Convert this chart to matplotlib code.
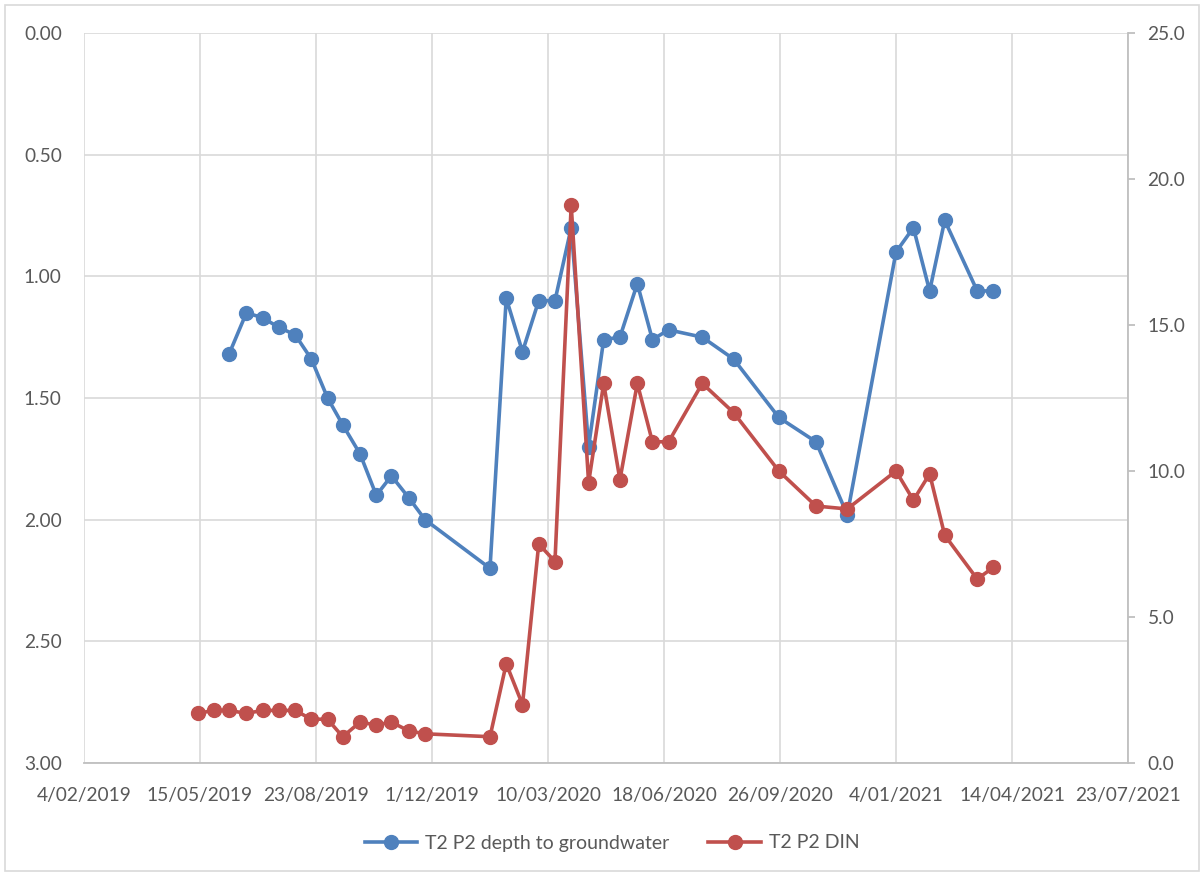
import datetime as dt
import matplotlib
matplotlib.use('Agg')
import matplotlib.pyplot as plt
import matplotlib.dates as mdates
from matplotlib.patches import Rectangle
from matplotlib.ticker import FuncFormatter, MultipleLocator

plt.rcParams['font.family'] = ['Lato', 'DejaVu Sans']

# sampling dates (DIN has two extra early samples)
din_dates = ['2019-05-13', '2019-05-27', '2019-06-09', '2019-06-24', '2019-07-08',
             '2019-07-22', '2019-08-05', '2019-08-19', '2019-09-02', '2019-09-15',
             '2019-09-30', '2019-10-14', '2019-10-27', '2019-11-11', '2019-11-25',
             '2020-01-20', '2020-02-03', '2020-02-17', '2020-03-02', '2020-03-16',
             '2020-03-30', '2020-04-14', '2020-04-27', '2020-05-11', '2020-05-26',
             '2020-06-08', '2020-06-22', '2020-07-21', '2020-08-17', '2020-09-25',
             '2020-10-27', '2020-11-23', '2021-01-04', '2021-01-19', '2021-02-02',
             '2021-02-15', '2021-03-15', '2021-03-29']
depth_dates = din_dates[2:]

depth = [1.32, 1.15, 1.17, 1.21, 1.24, 1.34, 1.50, 1.61, 1.73, 1.90, 1.82, 1.91,
         2.00, 2.20, 1.09, 1.31, 1.10, 1.10, 0.80, 1.70, 1.26, 1.25, 1.03, 1.26,
         1.22, 1.25, 1.34, 1.58, 1.68, 1.98, 0.90, 0.80, 1.06, 0.77, 1.06, 1.06]

din = [1.7, 1.8, 1.8, 1.7, 1.8, 1.8, 1.8, 1.5, 1.5, 0.9, 1.4, 1.3, 1.4, 1.1,
       1.0, 0.9, 3.4, 2.0, 7.5, 6.9, 19.1, 9.6, 13.0, 9.7, 13.0, 11.0, 11.0,
       13.0, 12.0, 10.0, 8.8, 8.7, 10.0, 9.0, 9.9, 7.8, 6.3, 6.7]

x_start = dt.date(2019, 2, 4)
x_end = dt.date(2021, 7, 23)
x_step = 100  # days between date labels

blue = '#4F81BD'
red = '#C0504D'
grid_c = '#D9D9D9'
axis_c = '#BFBFBF'
text_c = '#595959'


def to_dates(lst):
    return [dt.datetime.strptime(s, '%Y-%m-%d') for s in lst]


W, H = 1204, 876
fig = plt.figure(figsize=(W / 100, H / 100), dpi=100)
left, right, top, bottom = 84, 1128, 33, 763
ax = fig.add_axes([left / W, 1 - bottom / H, (right - left) / W, (bottom - top) / H])
ax2 = ax.twinx()

ax.plot(to_dates(depth_dates), depth, color=blue, lw=2.6, marker='o', ms=10,
        label='T2 P2 depth to groundwater', zorder=3)
ax2.plot(to_dates(din_dates), din, color=red, lw=2.6, marker='o', ms=10,
         label='T2 P2 DIN', zorder=3)

# x axis: date ticks every 100 days
ticks = []
d = x_start
while d <= x_end:
    ticks.append(mdates.date2num(d))
    d += dt.timedelta(days=x_step)
ax.set_xlim(mdates.date2num(x_start), mdates.date2num(x_end))
ax.set_xticks(ticks)
ax.xaxis.set_major_formatter(FuncFormatter(
    lambda v, p: '{}/{}'.format(mdates.num2date(v).day, mdates.num2date(v).strftime('%m/%Y'))))

# left axis: depth, inverted
ax.set_ylim(3, 0)
ax.yaxis.set_major_locator(MultipleLocator(0.5))
ax.yaxis.set_major_formatter(FuncFormatter(lambda v, p: '%.2f' % v))

# right axis: DIN
ax2.set_ylim(0, 25)
ax2.yaxis.set_major_locator(MultipleLocator(5))
ax2.yaxis.set_major_formatter(FuncFormatter(lambda v, p: '%.1f' % v))

ax.grid(True, color=grid_c, lw=1.2)
ax.set_axisbelow(True)
for s in ['top', 'left', 'right']:
    ax.spines[s].set_visible(False)
ax.spines['bottom'].set_color(axis_c)
ax.spines['bottom'].set_linewidth(1.3)
for s in ['top', 'left', 'bottom']:
    ax2.spines[s].set_visible(False)
ax2.spines['right'].set_color(axis_c)
ax2.spines['right'].set_linewidth(1.3)

ax.tick_params(axis='x', length=0, pad=17, labelsize=13.8, labelcolor=text_c)
ax.tick_params(axis='y', length=0, pad=16, labelsize=13.8, labelcolor=text_c)
ax2.tick_params(axis='y', length=5, width=1.3, color=axis_c, pad=9,
                labelsize=13.8, labelcolor=text_c)

h1, l1 = ax.get_legend_handles_labels()
h2, l2 = ax2.get_legend_handles_labels()
leg = fig.legend(h1 + h2, l1 + l2, loc='center', ncol=2, frameon=False,
                 bbox_to_anchor=(612 / W, 1 - 843 / H), fontsize=14,
                 handlelength=2.7, columnspacing=2.0, handletextpad=0.4)
for t in leg.get_texts():
    t.set_color(text_c)

# chart area border
fig.patches.append(Rectangle((5 / W, 5 / H), 1 - 10 / W, 1 - 10 / H,
                             transform=fig.transFigure, fill=False,
                             edgecolor=grid_c, lw=1.2))

fig.savefig('out.png', dpi=100)
